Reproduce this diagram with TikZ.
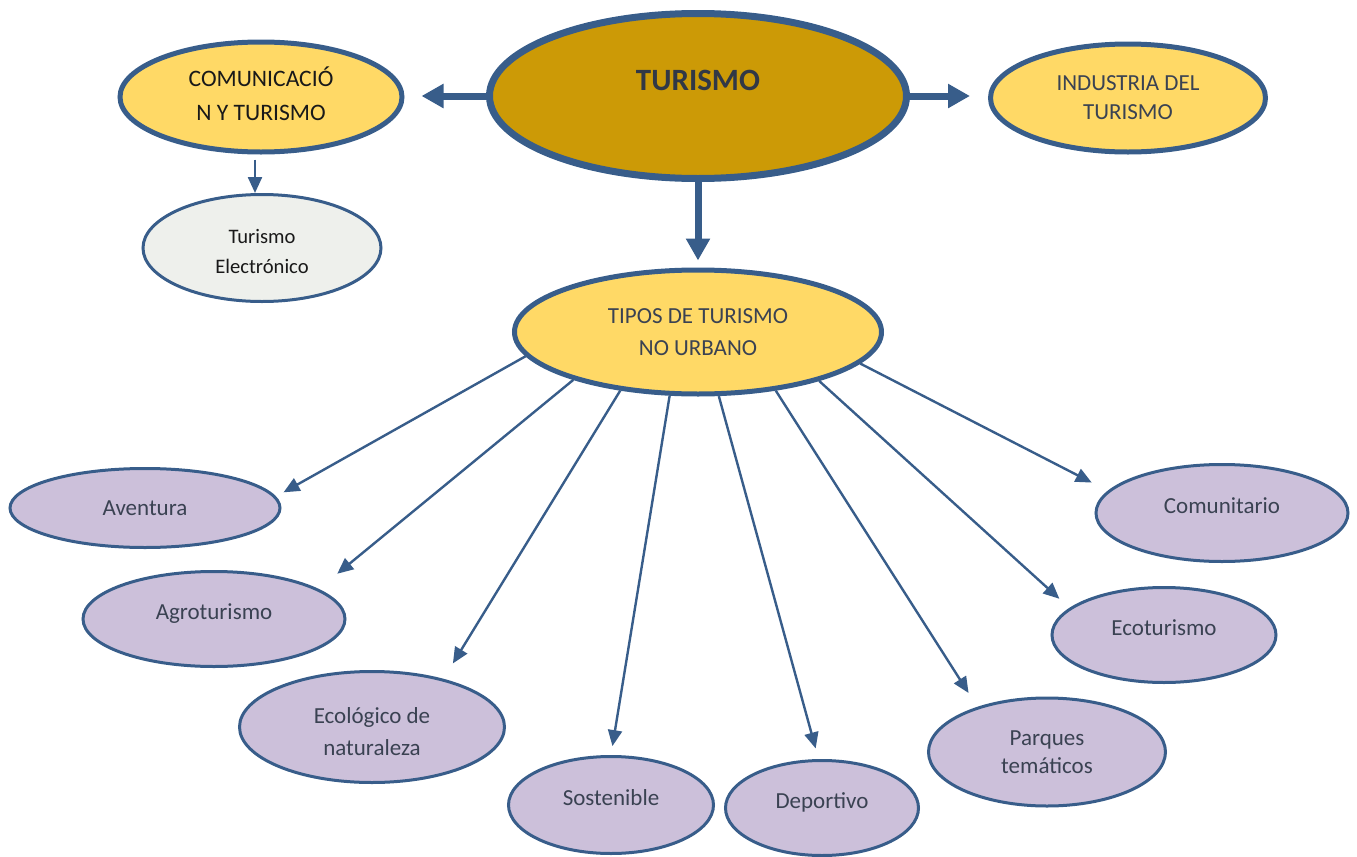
\documentclass[tikz,border=0pt]{standalone}
\usepackage{fontspec}
\setmainfont{Carlito}
\usetikzlibrary{arrows.meta}
\usetikzlibrary{shapes.geometric}

\definecolor{edgeBlue}{HTML}{385D8A}
\definecolor{goldFill}{HTML}{CC9A06}
\definecolor{yellowFill}{HTML}{FFD966}
\definecolor{typeFill}{HTML}{CCC0DA}
\definecolor{greyFill}{HTML}{EEF0EC}
\definecolor{slateText}{HTML}{3A4252}

\begin{document}
\begin{tikzpicture}[x=0.5pt,y=-0.5pt,
	bubble/.style={ellipse, draw=edgeBlue, inner sep=0pt, align=center, text=slateText,
		font=\fontsize{11.5}{16}\selectfont},
	typebubble/.style={bubble, fill=typeFill, line width=1.5pt},
	raisedtext/.style={text height=8pt, text depth=8pt},
	mainbubble/.style={bubble, fill=yellowFill, line width=2.5pt},
	bigArrow/.style={draw=edgeBlue, line width=3.5pt, -{Triangle[length=11pt,width=11.5pt]}},
	thinArrow/.style={draw=edgeBlue, line width=1.2pt, -{Triangle[length=8pt,width=7pt]}}]

	%page frame
	\useasboundingbox (0,0) rectangle (1357,857);

	%top row
	\node[bubble, fill=goldFill, line width=3.5pt, minimum width=208.5pt, minimum height=82.5pt,
		font=\fontsize{15.5}{16}\selectfont\bfseries, text=slateText!85!black] (turismo) at (698,96) {TURISMO\\\mbox{}};
	\node[mainbubble, minimum width=141pt, minimum height=55pt, text=black!90,
		font=\fontsize{11.8}{17}\selectfont] (comunic) at (261,97) {COMUNICACIÓ\\N Y TURISMO\rule[-3pt]{0pt}{0pt}};
	\node[mainbubble, minimum width=137.5pt, minimum height=54pt, font=\fontsize{11.5}{14.5}\selectfont] (industria) at (1128,98) {INDUSTRIA DEL\\TURISMO};
	\node[bubble, fill=greyFill, line width=1.5pt, minimum width=119pt, minimum height=53.5pt, text=black!90,
		font=\fontsize{10.3}{15}\selectfont] (electro) at (262,248) {\rule{0pt}{10.5pt}Turismo\\Electrónico};

	%middle
	\node[mainbubble, minimum width=183.5pt, minimum height=62pt] (tipos) at (698,332) {TIPOS DE TURISMO\\NO URBANO};

	%types of tourism
	\node[typebubble, minimum width=135pt, minimum height=39.5pt] (aventura) at (145,508) {Aventura};
	\node[typebubble, raisedtext, minimum width=131pt, minimum height=47.5pt] (agro) at (214,619) {Agroturismo};
	\node[typebubble, minimum width=132.5pt, minimum height=55.5pt] (ecologico) at (372,727) {\rule{0pt}{12.2pt}Ecológico de\\naturaleza};
	\node[typebubble, raisedtext, minimum width=102.5pt, minimum height=48.5pt] (sostenible) at (611,805) {Sostenible};
	\node[typebubble, raisedtext, minimum width=96.5pt, minimum height=47.5pt] (deportivo) at (822,808) {Deportivo};
	\node[typebubble, minimum width=118.5pt, minimum height=54pt, font=\fontsize{11.5}{14}\selectfont] (parques) at (1047,752) {Parques\\temáticos};
	\node[typebubble, raisedtext, minimum width=112pt, minimum height=47.5pt] (ecoturismo) at (1164,635) {Ecoturismo};
	\node[typebubble, raisedtext, minimum width=126pt, minimum height=48.5pt] (comunitario) at (1222,513) {Comunitario};

	%thick connectors
	\draw[bigArrow, shorten >=8.5pt] (turismo.west) -- (turismo.west -| comunic.east);
	\draw[bigArrow, shorten >=9pt] (turismo.east) -- (turismo.east -| industria.west);
	\draw[bigArrow, shorten >=3.5pt] (turismo.south) -- (tipos.north);
	\draw[thinArrow, shorten <=2.5pt] ([xshift=-3pt]comunic.south) -- ([xshift=-3.5pt]electro.north);

	%thin connectors
	\draw[thinArrow, shorten >=4.3pt] (tipos.188) -- (aventura.5);
	\draw[thinArrow, shorten >=12pt] (tipos.201) -- (agro.16);
	\draw[thinArrow, shorten >=9pt] (tipos.217) -- (ecologico.34);
	\draw[thinArrow, shorten >=4.5pt] (tipos.246) -- (sostenible.90);
	\draw[thinArrow, shorten >=5.5pt] (tipos.288) -- (deportivo.94);
	\draw[thinArrow, shorten >=8.2pt] (tipos.323) -- (parques.147);
	\draw[thinArrow, shorten >=6.8pt] (tipos.338) -- (ecoturismo.164);
	\draw[thinArrow, shorten >=9pt] (tipos.349) -- (comunitario.169);

\end{tikzpicture}
\end{document}
